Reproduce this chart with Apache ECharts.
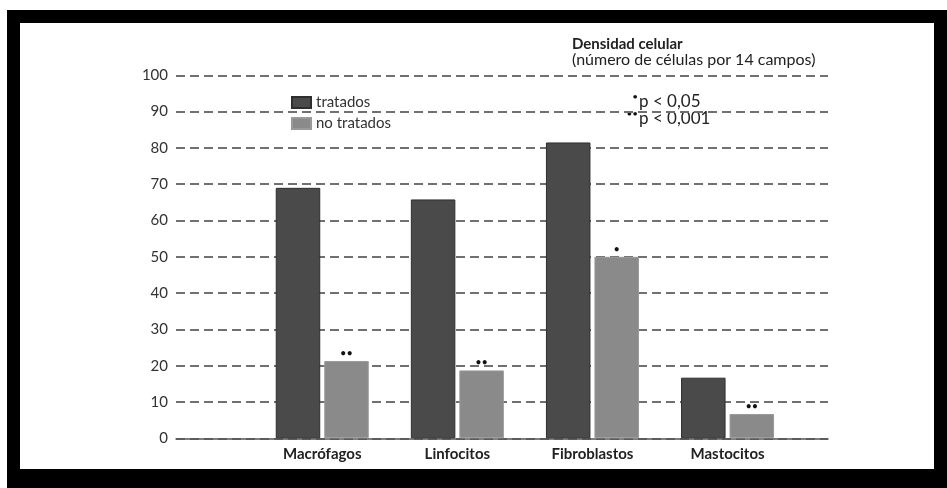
<!DOCTYPE html>
<html>
<head>
<meta charset="utf-8">
<script src="https://cdn.jsdelivr.net/npm/echarts@6/dist/echarts.min.js"></script>
<style>
  html, body { margin: 0; padding: 0; background: #fff; }
  #frame { position: absolute; left: 7px; top: 10px; width: 940px; height: 478px; background: #000; }
  #chart { position: absolute; left: 20px; top: 23px; width: 914px; height: 446px; background: #fff; }
</style>
</head>
<body>
<div id="frame"></div>
<div id="chart"></div>
<script>
// Cell counts per cell type (número de células por 14 campos)
const categories = ['Macrófagos', 'Linfocitos', 'Fibroblastos', 'Mastocitos'];
const tratados = [69, 65.8, 81.5, 16.7];
const noTratados = [21.3, 18.7, 50, 6.7];
// Significance markers over the untreated bars (• p < 0,05 ; •• p < 0,001)
const significance = ['••', '••', '•', '••'];
const yTicks = [0, 10, 20, 30, 40, 50, 60, 70, 80, 90, 100];

const FONT = 'Lato, "DejaVu Sans", sans-serif';
const chart = echarts.init(document.getElementById('chart'));

// Footnote: raised dot marker followed by the p-value threshold
function footnote(marker, text, y) {
  return [
    {
      type: 'text',
      style: { x: 618, y: y - 5, align: 'right', verticalAlign: 'middle',
               text: marker, font: '10px ' + FONT, fill: '#111' }
    },
    {
      type: 'text',
      style: { x: 619, y: y, align: 'left', verticalAlign: 'middle',
               text: text, font: '17px ' + FONT, fill: '#222' }
    }
  ];
}

const option = {
  backgroundColor: '#fff',
  animation: false,
  textStyle: { fontFamily: FONT },
  title: {
    left: 552, top: 14, padding: 0,
    text: 'Densidad celular',
    subtext: '(número de células por 14 campos)',
    itemGap: 0,
    textStyle: { fontFamily: FONT, fontSize: 15, fontWeight: 'bold', color: '#222', lineHeight: 15 },
    subtextStyle: { fontFamily: FONT, fontSize: 16, color: '#222', lineHeight: 16 }
  },
  legend: {
    left: 271, top: 72, padding: 0,
    orient: 'vertical', icon: 'rect',
    itemWidth: 19, itemHeight: 11, itemGap: 6,
    textStyle: { fontFamily: FONT, fontSize: 15, color: '#333' },
    data: ['tratados', 'no tratados']
  },
  graphic: [].concat(
    footnote('•', 'p < 0,05', 79),
    footnote('••', 'p < 0,001', 96)
  ),
  grid: [
    { left: 156, right: 106, top: 52.3, bottom: 30.7 },
    { left: 234.7, right: 138.9, top: 52.3, bottom: 30.7 }
  ],
  xAxis: [
    {
      gridIndex: 0, type: 'value', min: 0, max: 1,
      axisLine: { show: true, onZero: false, lineStyle: { color: '#555', width: 1.5 } },
      axisTick: { show: false }, axisLabel: { show: false }, splitLine: { show: false }
    },
    {
      gridIndex: 1, type: 'category', data: categories,
      axisLine: { show: false }, axisTick: { show: false },
      axisLabel: { fontFamily: FONT, fontSize: 15, fontWeight: 'bold', color: '#222', margin: 8 }
    }
  ],
  yAxis: [
    {
      gridIndex: 0, type: 'value', min: 0, max: 100, interval: 10,
      axisLine: { show: false }, axisTick: { show: false },
      axisLabel: {
        fontFamily: FONT, fontSize: 15, color: '#333', margin: 8,
        formatter: v => (yTicks.indexOf(v) >= 0 ? String(v) : '')
      },
      splitLine: { show: true, lineStyle: { color: '#707070', width: 2, type: [9, 5] } }
    },
    {
      gridIndex: 1, type: 'value', min: 0, max: 100, interval: 10,
      show: false, splitLine: { show: false }
    }
  ],
  series: [
    {
      name: 'tratados', type: 'bar', xAxisIndex: 1, yAxisIndex: 1,
      data: tratados, barWidth: 44.5, barGap: '9%',
      itemStyle: { color: '#4a4a4a', borderColor: '#2e2e2e', borderWidth: 1 }
    },
    {
      name: 'no tratados', type: 'bar', xAxisIndex: 1, yAxisIndex: 1,
      data: noTratados, barWidth: 44.5, barGap: '9%',
      itemStyle: { color: '#8a8a8a', borderColor: '#9a9a9a', borderWidth: 1 },
      label: {
        show: true, position: 'top', distance: 2,
        fontFamily: FONT, fontSize: 11, color: '#111',
        formatter: p => significance[p.dataIndex]
      }
    }
  ]
};

chart.setOption(option);
</script>
</body>
</html>
